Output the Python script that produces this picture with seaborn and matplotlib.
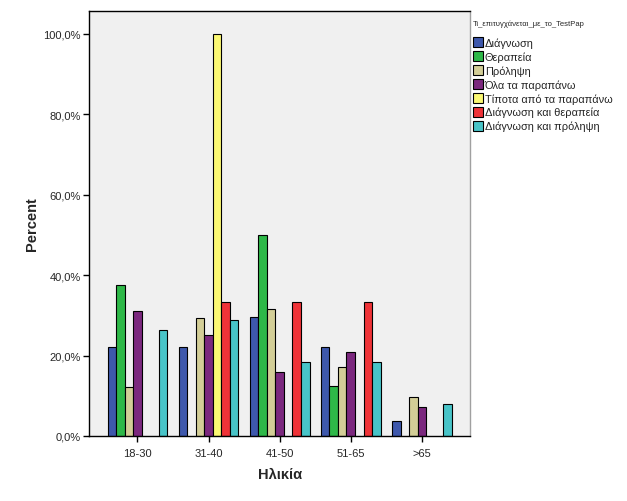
import matplotlib
matplotlib.use("Agg")
import matplotlib.pyplot as plt
from matplotlib.patches import Patch
from matplotlib.ticker import FuncFormatter
import seaborn as sns
import pandas as pd

ages = ["18-30", "31-40", "41-50", "51-65", ">65"]
outcomes = ["Διάγνωση", "Θεραπεία", "Πρόληψη", "Όλα τα παραπάνω",
            "Τίποτα από τα παραπάνω", "Διάγνωση και θεραπεία", "Διάγνωση και πρόληψη"]
colors = ["#3E58AC", "#2EB848", "#D3CE97", "#7B287E", "#FBF873", "#EF3338", "#48C4C8"]

# percent per age group (None = no bar)
diagnosis    = [22.2, 22.2, 29.7, 22.2, 3.8]
therapy      = [37.5, None, 50.0, 12.5, None]
prevention   = [12.2, 29.3, 31.7, 17.1, 9.8]
all_above    = [31.1, 25.0, 16.0, 21.0, 7.1]
none_above   = [None, 100.0, None, None, None]
diag_therapy = [None, 33.3, 33.3, 33.3, None]
diag_prev    = [26.3, 28.9, 18.4, 18.4, 7.9]

series = [diagnosis, therapy, prevention, all_above, none_above, diag_therapy, diag_prev]
rows = []
for name, vals in zip(outcomes, series):
    for a, v in zip(ages, vals):
        if v is not None:
            rows.append({"age": a, "outcome": name, "pct": v})
df = pd.DataFrame(rows)

sns.set_style("white")
plt.rcParams["font.family"] = ["Liberation Sans", "DejaVu Sans"]

fig = plt.figure(figsize=(6.27, 5.02), dpi=100)
ax = fig.add_axes([89.3/627, 1-437/502, (470-89.3)/627, (437-12)/502])
ax.set_facecolor("#F0F0F0")

sns.barplot(data=df, x="age", y="pct", hue="outcome", order=ages, hue_order=outcomes,
            palette=colors, saturation=1, width=0.84, edgecolor="black", linewidth=0.8,
            errorbar=None, ax=ax, legend=False)

ax.set_xlim(-0.677, 4.677)
ax.set_ylim(0, 105.7)
ax.set_yticks([0, 20, 40, 60, 80, 100])
ax.yaxis.set_major_formatter(FuncFormatter(lambda v, p: f"{v:.1f}%".replace(".", ",")))
ax.tick_params(axis="both", which="major", direction="out", length=4, width=1,
               color="black", labelsize=8, left=True, bottom=True, pad=2)
ax.tick_params(axis="x", pad=5)
ax.set_ylabel("Percent", fontsize=10.5, fontweight="bold", labelpad=3)
ax.set_xlabel("Ηλικία", fontsize=10.5, fontweight="bold", labelpad=6)

for s in ["left", "bottom", "top"]:
    ax.spines[s].set_color("black")
    ax.spines[s].set_linewidth(1)
ax.spines["right"].set_color("#A0A0A0")
ax.spines["right"].set_linewidth(1)

handles = [Patch(facecolor=c, edgecolor="black", linewidth=0.8) for c in colors]
leg = fig.legend(handles, outcomes, title="Τι_επιτυγχάνεται_με_το_TestPap",
                 loc="upper left", bbox_to_anchor=(464/627, 1-12/502), frameon=False,
                 fontsize=7.9, title_fontsize=5.5, handlelength=0.95, handleheight=1.0,
                 handletextpad=0.15, labelspacing=0.3, borderpad=0.3, alignment="left")
leg._legend_box.sep = 7

fig.savefig("out.png", dpi=100, facecolor="white")
